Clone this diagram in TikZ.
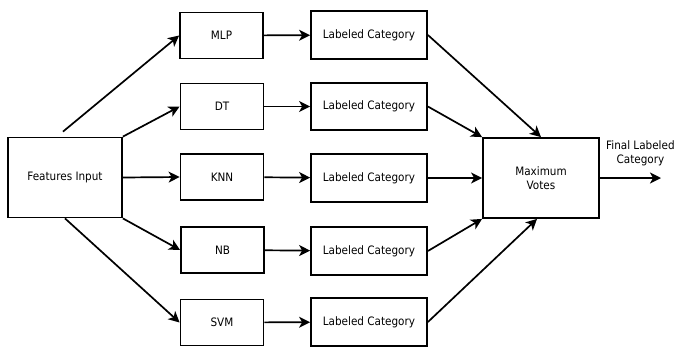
\documentclass[tikz,border=0pt]{standalone}
\usepackage{fontspec}
\setmainfont{DejaVu Sans Condensed}
\usetikzlibrary{arrows.meta}
\begin{document}
\begin{tikzpicture}[x=1pt,y=-1pt,
  txt/.style={font=\fontsize{11.6}{14}\selectfont},
  box/.style={draw,line width=1.8pt,rectangle,inner sep=0pt,txt},
  conn/.style={line width=1.7pt,-{Stealth[length=11pt,width=11pt,inset=3pt]}}]
\useasboundingbox (0,0) rectangle (674,349);
\node[box,minimum width=114pt,minimum height=80pt] (fi) at (65,177.5) {Features Input};
\node[box,minimum width=83pt,minimum height=46pt] (mlp) at (221.5,35.5) {MLP};
\node[box,minimum width=83pt,minimum height=46pt] (dt) at (222,106.5) {DT};
\node[box,minimum width=83pt,minimum height=46pt] (knn) at (222,177) {KNN};
\node[box,minimum width=83pt,minimum height=46pt] (nb) at (222.5,250) {NB};
\node[box,minimum width=83pt,minimum height=46pt] (svm) at (222,322.5) {SVM};
\node[box,minimum width=116pt,minimum height=48pt] (l1) at (369,35) {Labeled Category};
\node[box,minimum width=116pt,minimum height=47pt] (l2) at (369,106.5) {Labeled Category};
\node[box,minimum width=116pt,minimum height=48pt] (l3) at (369,178) {Labeled Category};
\node[box,minimum width=116pt,minimum height=48pt] (l4) at (369,251) {Labeled Category};
\node[box,minimum width=116pt,minimum height=48pt] (l5) at (369,322) {Labeled Category};
\node[box,minimum width=116pt,minimum height=80pt,align=center] (mx) at (541,178) {Maximum\\Votes};
\node[txt,align=center,anchor=west,inner sep=0pt] (fl) at (606,153) {Final Labeled\\Category};
\coordinate (out) at (661,178);
\draw[conn] ([shift={(-2,-5)}]fi.north) -- (mlp.west);
\draw[conn] (fi.north east) -- (dt.west);
\draw[conn] (fi.east) -- (knn.west);
\draw[conn] (fi.south east) -- (nb.west);
\draw[conn] (fi.south) -- (svm.west);
\draw[conn] (mlp) -- (l1);
\draw[conn] (dt) -- (l2);
\draw[conn] (knn) -- (l3);
\draw[conn] (nb) -- (l4);
\draw[conn] (svm) -- (l5);
\draw[conn] (l1.east) -- (mx.north);
\draw[conn] (l2.east) -- (mx.north west);
\draw[conn] (l3.east) -- (mx.west);
\draw[conn] (l4.east) -- (mx.south west);
\draw[conn] (l5.east) -- ([xshift=-4pt]mx.south);
\draw[conn] (mx.east) -- (out);
\end{tikzpicture}
\end{document}
